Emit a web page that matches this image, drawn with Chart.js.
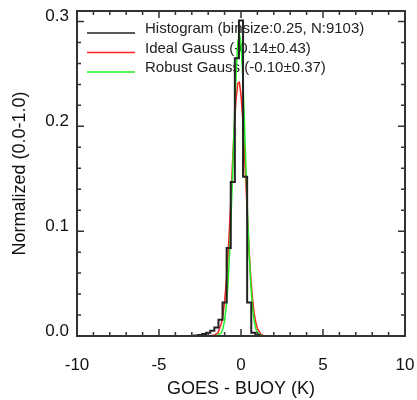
<!DOCTYPE html>
<html>
<head>
<meta charset="utf-8">
<script src="https://cdn.jsdelivr.net/npm/chart.js@4.4.1/dist/chart.umd.min.js"></script>
<style>
  html, body { margin: 0; padding: 0; background: #fff; }
</style>
</head>
<body>
<canvas id="chart" width="417" height="400"></canvas>
<script>
// histogram, binsize 0.25 (bin centres)
const binCenters = [-3.0, -2.75, -2.5, -2.25, -2.0, -1.75, -1.5, -1.25, -1.0, -0.75, -0.5, -0.25, 0.0, 0.25, 0.5, 0.75, 1.0, 1.25];
const binValues  = [0, 0.0005, 0.001, 0.002, 0.003, 0.005, 0.008, 0.0155, 0.032, 0.084, 0.147, 0.265, 0.301, 0.152, 0.032, 0.003, 0.001, 0];

// fitted curves
const curveX = [-2.0, -1.6, -1.4, -1.2, -1.1, -1.0, -0.9, -0.8, -0.7, -0.6, -0.5, -0.4, -0.3, -0.2, -0.1, 0.0, 0.1, 0.2, 0.3, 0.4, 0.5, 0.6, 0.7, 0.8, 0.9, 1.0, 1.2, 1.4, 1.6];
const idealValues  = [0, 0.001, 0.003, 0.012, 0.02, 0.033, 0.051, 0.075, 0.104, 0.137, 0.171, 0.202, 0.226, 0.241, 0.242, 0.23, 0.208, 0.178, 0.144, 0.11, 0.08, 0.055, 0.036, 0.022, 0.013, 0.007, 0.002, 0, 0];
const robustValues = [0, 0, 0.001, 0.003, 0.007, 0.015, 0.028, 0.048, 0.078, 0.116, 0.161, 0.208, 0.25, 0.279, 0.289, 0.279, 0.25, 0.208, 0.161, 0.116, 0.078, 0.048, 0.028, 0.015, 0.007, 0.003, 0.001, 0, 0];

const xTickValues = [-10, -5, 0, 5, 10];
const yTickValues = [0, 0.1, 0.2, 0.3];
const legendLabels = ['Histogram (binsize:0.25, N:9103)', 'Ideal Gauss (-0.14\u00b10.43)', 'Robust Gauss (-0.10\u00b10.37)'];
const fontFamily = '"Liberation Sans", Arial, Helvetica, sans-serif';

const toPoints = (xs, ys) => xs.map((v, i) => ({x: v, y: ys[i]}));

// inward IDL style ticks + box frame
const frameTicks = {
    id: 'frameTicks',
    afterDatasetsDraw(chart) {
        const {ctx, chartArea: a, scales: {x, y}} = chart;
        ctx.save();
        ctx.strokeStyle = '#333';
        ctx.lineWidth = 1.5;
        ctx.beginPath();
        for (let v = -10; v <= 10; v++) {
            const px = x.getPixelForValue(v);
            const len = v % 5 === 0 ? 7 : 4;
            ctx.moveTo(px, a.bottom); ctx.lineTo(px, a.bottom - len);
            ctx.moveTo(px, a.top); ctx.lineTo(px, a.top + len);
        }
        for (let i = 0; i <= 15; i++) {
            const py = y.getPixelForValue(i * 0.02);
            const len = i % 5 === 0 ? 7 : 4;
            ctx.moveTo(a.left, py); ctx.lineTo(a.left + len, py);
            ctx.moveTo(a.right, py); ctx.lineTo(a.right - len, py);
        }
        ctx.stroke();
        ctx.lineWidth = 2;
        ctx.strokeRect(a.left, a.top, a.right - a.left, a.bottom - a.top);
        ctx.restore();
    }
};

// legend drawn inside the plot, under the lines
const innerLegend = {
    id: 'innerLegend',
    beforeDatasetsDraw(chart) {
        const {ctx, chartArea: a} = chart;
        ctx.save();
        ctx.font = '15px ' + fontFamily;
        ctx.textBaseline = 'middle';
        chart.data.datasets.forEach((ds, i) => {
            const rowY = a.top + 18 + i * 19.5;
            ctx.strokeStyle = ds.borderColor;
            ctx.lineWidth = 1.5;
            ctx.beginPath();
            ctx.moveTo(a.left + 10, rowY + 4);
            ctx.lineTo(a.left + 58, rowY + 4);
            ctx.stroke();
            ctx.fillStyle = '#222';
            ctx.fillText(legendLabels[i], a.left + 68, rowY);
        });
        ctx.restore();
    }
};

new Chart(document.getElementById('chart'), {
    type: 'line',
    data: {
        datasets: [
            {
                data: toPoints(binCenters, binValues),
                borderColor: '#222',
                borderWidth: 2,
                stepped: 'middle',
                pointRadius: 0,
                order: 0
            },
            {
                data: toPoints(curveX, idealValues),
                borderColor: '#ff2020',
                borderWidth: 1.5,
                pointRadius: 0,
                order: 2
            },
            {
                data: toPoints(curveX, robustValues),
                borderColor: '#20f020',
                borderWidth: 1.5,
                pointRadius: 0,
                order: 1
            }
        ]
    },
    options: {
        responsive: false,
        animation: false,
        layout: { padding: { top: 11, right: 12, left: 0, bottom: 0 } },
        plugins: { legend: { display: false }, tooltip: { enabled: false } },
        scales: {
            x: {
                type: 'linear',
                min: -10,
                max: 10,
                grid: { display: false, drawTicks: false },
                border: { display: false },
                afterBuildTicks(scale) { scale.ticks = xTickValues.map(v => ({value: v})); },
                ticks: {
                    padding: 19,
                    color: '#111',
                    font: { family: fontFamily, size: 17 }
                },
                title: {
                    display: true,
                    text: 'GOES - BUOY (K)',
                    color: '#111',
                    padding: 0,
                    font: { family: fontFamily, size: 18 }
                },
                afterFit(scale) {
                    scale.height = 64;
                    scale.paddingLeft = 0;
                    scale.paddingRight = 0;
                }
            },
            y: {
                min: 0,
                max: 0.31,
                grid: { display: false, drawTicks: false },
                border: { display: false },
                afterBuildTicks(scale) { scale.ticks = yTickValues.map(v => ({value: v})); },
                ticks: {
                    padding: 8,
                    labelOffset: -5,
                    color: '#111',
                    font: { family: fontFamily, size: 17 },
                    callback: v => v.toFixed(1)
                },
                title: {
                    display: true,
                    text: 'Normalized (0.0-1.0)',
                    color: '#111',
                    padding: { top: 9, bottom: 0 },
                    font: { family: fontFamily, size: 18 }
                },
                afterFit(scale) {
                    scale.width = 77;
                    scale.paddingTop = 0;
                    scale.paddingBottom = 0;
                }
            }
        }
    },
    plugins: [innerLegend, frameTicks]
});
</script>
</body>
</html>
